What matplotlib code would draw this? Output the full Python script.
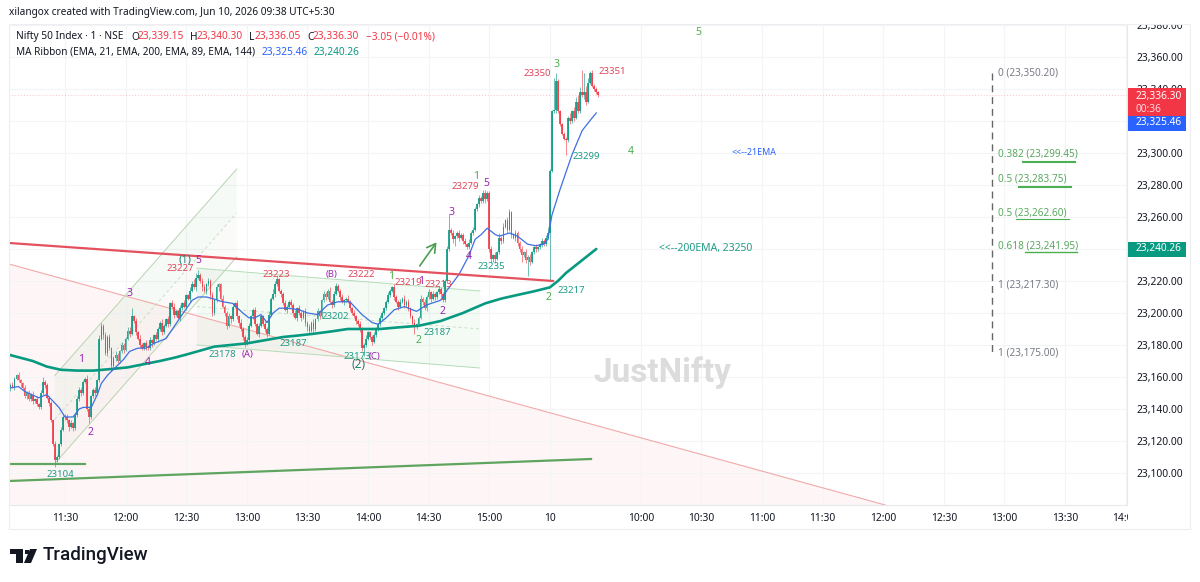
import matplotlib
matplotlib.use('Agg')
import matplotlib.pyplot as plt
from matplotlib.patches import Rectangle, Polygon
import numpy as np

plt.rcParams['font.family'] = ['Noto Sans', 'DejaVu Sans']

# one minute candles, bar 0 = 11:30, bar 240 = first bar of the 10th
first_bar = -28
first_open = 23152
closes = [
    23153,23155,23154,23159,23161,23158,23156,23153,23148,23150,23146,23149,23145,23146,23143,
    23141,23150,23157,23155,23147,23144,23133,23118,23108,23110,23118,23127,23135,23135,
    23133,23129,23131,23128,23136,23146,23152,23150,23157,23159,23140,23135,23148,23152,23150,
    23158,23184,23192,23186,23175,23185,23178,23167,23172,23174,23170,23176,23180,23177,23184,
    23189,23187,23198,23195,23188,23184,23180,23178,23181,23179,23178,23183,23181,23186,23184,
    23190,23194,23188,23192,23196,23193,23206,23204,23199,23201,23197,23203,23206,23204,23211,
    23209,23214,23218,23216,23222,23224,23220,23216,23214,23218,23220,23211,23200,23208,23216,
    23218,23209,23204,23200,23192,23198,23196,23204,23206,23198,23194,23190,23185,23181,23183,
    23192,23198,23202,23193,23187,23192,23198,23193,23190,23187,23199,23209,23212,23218,23221,
    23214,23212,23206,23202,23204,23207,23205,23200,23197,23203,23200,23197,23201,23194,23191,
    23189,23194,23190,23196,23201,23198,23208,23212,23210,23214,23207,23205,23212,23217,23214,
    23210,23207,23208,23209,23207,23203,23200,23198,23195,23193,23190,23178,23180,23184,23188,
    23185,23182,23186,23190,23193,23197,23200,23203,23207,23211,23214,23216,23210,23207,23204,
    23207,23209,23205,23207,23203,23198,23194,23191,23193,23197,23209,23207,23203,23210,23213,
    23209,23212,23210,23213,23215,23212,23208,23220,23240,23252,23250,23246,23248,23250,23247,
    23249,23245,23243,23241,23244,23250,23252,23265,23268,23272,23270,23275,23271,23275,23240,
    23234,23236,23234,23238,23247,23245,23254,23258,23252,23263,23249,23247,23250,23244,23240,
    23236,23238,23233,23235,23232,23238,23241,23240,23241,23243,23245,23243,23247,23250,
    23289,23326,23327,23345,23326,23318,23312,23309,23308,23322,23320,23326,23322,23332,23326,
    23338,23336,23338,23332,23344,23350,23342,23340,23338,23336,
]
upper_wick = [
    2,1,2,1,1,2,1,1,2,1,2,1,2,1,2,
    1,2,3,1,1,1,1,1,2,1,1,2,1,2,
    2,1,2,1,1,2,2,1,1,1,2,2,1,1,2,1,2,2,1,2,1,2,1,1,2,1,1,2,1,1,
    2,2,5,1,2,1,2,1,1,2,1,2,1,1,2,1,1,2,1,1,2,1,2,2,1,1,2,1,2,1,
    1,2,2,3,3,3,1,2,2,1,2,1,2,1,2,1,1,2,1,1,2,1,2,1,2,1,2,1,1,2,
    2,1,1,2,1,2,1,1,2,1,2,1,3,2,2,1,1,1,2,1,1,2,1,2,1,2,1,1,2,1,
    2,1,2,1,2,1,1,2,1,1,2,1,2,2,1,1,2,1,1,2,1,1,2,1,1,2,1,1,2,1,
    1,1,2,1,1,2,1,1,1,2,1,1,2,1,1,2,1,2,1,2,1,1,2,1,1,2,1,2,1,2,
    1,2,1,1,2,1,1,1,2,10,1,2,1,1,2,1,1,2,1,2,1,2,1,1,2,1,2,2,1,1,
    2,1,2,1,3,1,2,1,2,2,1,1,2,1,1,2,1,2,1,2,1,1,2,1,1,2,1,2,4,
    1,1,20,5,1,1,1,1,1,1,3,1,3,3,4,3,14,12,4,3,1,2,1,1,1,
]
lower_wick = [
    1,2,1,2,1,1,2,1,1,2,1,1,2,1,1,
    1,1,1,2,1,2,1,1,4,1,1,1,1,2,
    2,3,1,2,1,1,1,2,1,1,1,4,1,1,2,1,1,1,2,1,2,1,3,1,2,1,1,1,2,1,
    1,2,1,1,2,1,2,1,1,2,1,1,2,1,1,2,1,2,1,1,2,1,1,2,1,1,2,1,1,2,
    1,2,1,1,2,1,1,2,1,2,1,2,2,1,1,2,1,1,2,2,1,2,1,1,2,2,1,2,2,1,
    1,1,2,1,1,2,1,1,2,2,1,1,1,2,1,1,2,1,1,2,1,1,2,1,2,1,2,1,2,2,
    2,1,2,1,1,2,1,1,2,1,1,2,1,1,1,2,1,2,1,1,2,1,1,2,1,2,2,5,1,1,
    1,2,1,1,1,1,2,1,1,1,1,1,2,1,2,1,1,2,1,2,1,2,4,1,1,1,2,1,2,1,
    2,1,2,1,1,2,1,1,1,1,1,2,4,1,2,1,2,1,1,1,1,1,1,1,2,1,1,2,1,2,
    3,2,3,1,1,2,1,1,2,1,2,1,2,2,2,4,1,2,10,2,1,1,2,1,1,2,1,1,1,
    30,1,1,2,1,1,1,1,9,1,2,1,2,1,1,1,1,2,2,1,1,1,1,1,1,
]

# MA ribbon
ema21_bars = [-28,-23,-20,-13,-9,-6,-3,0,4,7,9,13,16,18,21,25,29,32,36,40,44,50,58,63,66,70,73,78,83,88,91,94,97,100,103,106,110,116,
              120,125,130,135,141,147,152,155,159,163,168,174,179,186,189,192,195,200,203,206,209,213,215,220,224,229,233,237,239,241,245,251,256,261,263]
ema21_vals = [23153,23154,23151,23147,23149,23145,23141,23135,23135,23140,23141,23141,23149,23156,23161,23166,23171,23176,23178,23178,23181,
              23184,23199,23208,23210,23210,23209,23207,23206,23200,23197,23197,23199,23194,23200,23203,23203,23202,23200,23199,23205,23207,23207,23199,
              23194,23193,23197,23202,23204,23201,23205,23208,23214,23219,23224,23236,23246,23249,23253,23249,23248,23250,23248,23243,23242,23243,
              23246,23261,23277,23299,23314,23322,23325]
ema200_bars = [-28,-22,-16,-9,-2,6,14,23,31,39,47,54,60,67,74,82,90,99,108,116,123,132,140,148,156,165,175,186,197,208,216,223,232,240,244,248,255,263]
ema200_vals = [23174,23172,23170,23166.5,23164.5,23164,23164,23165,23166,23168,23170,23172,23174,23176.5,23179,23180,23181,23183,23185,23186,
               23187,23188.5,23190,23190,23190,23191,23192,23195,23200,23206,23209,23211,23213.5,23216,23220,23225,23232,23240]

price_ticks = np.arange(23100, 23400, 20)
time_bars = [0, 30, 60, 90, 120, 150, 180, 210, 240, 285, 315, 345, 375, 405, 435, 465, 495, 525]
time_labels = ['11:30', '12:00', '12:30', '13:00', '13:30', '14:00', '14:30', '15:00', '10',
               '10:00', '10:30', '11:00', '11:30', '12:00', '12:30', '13:00', '13:30', '14:00']

fib_levels = [23350.20, 23299.45, 23283.75, 23262.60, 23241.95, 23217.30, 23175.00]
fib_ratios = ['0', '0.382', '0.5', '0.5', '0.618', '1', '1']

RED = '#f23645'
GREEN = '#089981'
PURPLE = '#9c27b0'
LGREEN = '#4caf50'
BLUE = '#2962ff'

# labels on the chart: bar, price, text
red_labels = [(234, 23349.4, '23350'), (271, 23351, '23351'), (198, 23279, '23279'), (57, 23227.5, '23227'),
              (104.5, 23224, '23223'), (146.5, 23224, '23222'), (170, 23219, '23219'), (185, 23218, '23213')]
teal_labels = [(-2.5, 23099, '23104'), (78, 23174, '23178'), (113, 23181, '23187'), (134, 23197.5, '23202'),
               (144.5, 23173, '23173'), (184.5, 23188, '23187'), (211, 23229, '23235'), (250.5, 23214, '23217'),
               (258, 23297.5, '23299')]
purple_labels = [(66, 23233, '5'), (8, 23171, '1'), (12.5, 23125, '2'), (32, 23212, '3'), (41, 23169, '4'),
                 (90.5, 23174, '(A)'), (132, 23224, '(B)'), (153, 23172.5, '(C)'), (187, 23201, '2'),
                 (191.5, 23263, '3'), (208.5, 23281, '5'), (200, 23235.5, '4'), (176.5, 23219.5, '1')]
green_labels = [(161.5, 23222.5, '1'), (175, 23182.5, '2'), (203.5, 23285.5, '1'), (243.5, 23355, '3'),
                (239.5, 23209.5, '2'), (280, 23301, '4'), (313.5, 23375, '5')]

W, H = 1200, 582
fig = plt.figure(figsize=(W / 100, H / 100), dpi=100)
ax = fig.add_axes([9 / W, 1 - 505 / H, (1127 - 9) / W, (505 - 24) / H], zorder=1)


def fx(x):
    return x / W


def fy(y):
    return 1 - y / H


def ftext(x, y, s, color='#131722', size=7.3, **kw):
    fig.text(fx(x), fy(y), s, color=color, fontsize=size, va='center', zorder=10, **kw)


xmin, xmax = -27.72, 525.7
ax.set_xlim(xmin, xmax)
ax.set_ylim(23080, 23380.6)

# grid
ax.set_yticks(price_ticks)
ax.set_yticklabels([f'{p:,.2f}' for p in price_ticks])
ax.set_xticks(time_bars)
ax.set_xticklabels(time_labels)
ax.yaxis.tick_right()
ax.grid(True, color='#f3f4f6', lw=0.8)
ax.set_axisbelow(True)
ax.tick_params(length=0, labelsize=7.4, labelcolor='#131722')
ax.tick_params(axis='y', pad=6.5)
ax.tick_params(axis='x', pad=6)
for lab in ax.get_xticklabels():
    if lab.get_text() == '10':
        lab.set_fontweight('bold')
for s in ['top', 'left']:
    ax.spines[s].set_visible(False)
for s in ['right', 'bottom']:
    ax.spines[s].set_color('#e6e8ec')
    ax.spines[s].set_linewidth(0.8)

# pink triangle under the falling line
ax.fill([xmin, 406, xmin], [23230.6, 23080, 23080], color='#fef6f6', zorder=0.5, lw=0)
ax.plot([xmin, 406], [23230.6, 23080], color='#f2a9a9', lw=0.8, zorder=1.5)

# rising channel
ax.fill([-5, 85, 85, -5], [23133.5, 23262.5, 23235, 23106], color='#9e9e80', alpha=0.05, zorder=1, lw=0)
ax.fill([-5, 85, 85, -5], [23161, 23290, 23262.5, 23133.5], color='#4caf50', alpha=0.05, zorder=1, lw=0)
ax.plot([-5, 85], [23106, 23235], color='#b8d4b0', lw=0.7, zorder=1.5)
ax.plot([-5, 85], [23161, 23290], color='#b8d4b0', lw=0.7, zorder=1.5)
ax.plot([-5, 85], [23133.5, 23262.5], color='#c5dfc5', lw=0.7, ls=(0, (3, 3)), zorder=1.5)

# flag channel
ax.fill([65.3, 205.4, 205.4, 65.3], [23228, 23213.75, 23165.6, 23180], color='#4caf50', alpha=0.06, zorder=1, lw=0)
ax.plot([65.3, 205.4], [23228, 23213.75], color='#b5dcb7', lw=0.7, zorder=1.5)
ax.plot([65.3, 205.4], [23180, 23165.6], color='#b5dcb7', lw=0.7, zorder=1.5)
ax.plot([65.3, 205.4], [23204, 23190], color='#c5dfc5', lw=0.7, ls=(0, (3, 3)), zorder=1.5)

# current price line
ax.axhline(23336.30, color=RED, lw=0.7, ls=(0, (1, 2)), alpha=0.3, zorder=1.5)

# candles
bars = np.arange(first_bar, first_bar + len(closes))
closes_arr = np.array(closes, dtype=float)
opens_arr = np.r_[first_open, closes_arr[:-1]]
highs = np.maximum(opens_arr, closes_arr) + np.array(upper_wick)
lows = np.minimum(opens_arr, closes_arr) - np.array(lower_wick)
up = closes_arr >= opens_arr
colors = np.where(up, GREEN, RED)
ax.vlines(bars, lows, highs, colors=colors, lw=0.6, alpha=0.7, zorder=2)
ax.bar(bars, np.abs(closes_arr - opens_arr), bottom=np.minimum(opens_arr, closes_arr),
       width=0.85, color=colors, alpha=0.85, lw=0, zorder=2.1)

# ribbon
ax.plot(ema200_bars, ema200_vals, color=GREEN, lw=1.9, zorder=3, solid_capstyle='round', solid_joinstyle='round')
ax.plot(ema21_bars, ema21_vals, color='#3d6fe0', lw=0.9, zorder=3, solid_joinstyle='round')

# drawn lines
ax.plot([xmin, 241.6], [23243.75, 23220], color='#e4505e', lw=1.6, zorder=3.2)
ax.plot([xmin, 10], [23105.6, 23105.6], color='#5fa55f', lw=1.6, zorder=3.2)
ax.plot([xmin, 260.4], [23095, 23108.75], color='#5fa55f', lw=1.6, zorder=3.2)
ax.annotate('', xy=(184.7, 23245.6), xytext=(174.8, 23228),
            arrowprops=dict(arrowstyle='->,head_width=0.35,head_length=0.6', color='#4c9f50', lw=1.2), zorder=4)

# fib levels
ax.plot([459, 459], [fib_levels[0], fib_levels[-1]], color='#666666', lw=1.0, ls=(0, (5, 3.5)), zorder=3)
for ratio, level in zip(fib_ratios, fib_levels):
    c = '#787b86' if ratio in ('0', '1') else '#5aa85f'
    ax.text(462, level, f'{ratio} ({level:,.2f})', color=c, fontsize=7.2, va='center', zorder=5)
ax.plot([474.3, 500], [23294.6, 23294.6], color=LGREEN, lw=1.5, zorder=5)
ax.plot([472, 498], [23279, 23279], color=LGREEN, lw=1.5, zorder=5)
ax.plot([471, 497], [23259, 23259], color=LGREEN, lw=0.8, zorder=5)
ax.plot([475, 501], [23238, 23238], color=LGREEN, lw=1.0, zorder=5)

# wave labels
for group, c in [(red_labels, '#e0455a'), (teal_labels, '#1f9c85'), (purple_labels, PURPLE), (green_labels, LGREEN)]:
    for bx, py, s in group:
        size = 7.5 if len(s) == 1 else 6.9
        ax.text(bx, py, s, color=c, fontsize=size, ha='center', va='center', zorder=6)
ax.text(59.5, 23233, '(1)', color='#1f7f70', fontsize=8, ha='center', va='center', zorder=6)
ax.text(145.5, 23167.5, '(2)', color='#1f7f70', fontsize=8.5, ha='center', va='center', zorder=6)
ax.text(341, 23300.5, '<<--21EMA', color=BLUE, fontsize=6.4, ha='center', va='center', zorder=6)
ax.text(317, 23240.5, '<<--200EMA, 23250', color='#1f9c85', fontsize=7.5, ha='center', va='center', zorder=6)
ax.text(295.5, 23163, 'JustNifty', color='#dcdcdc', fontsize=24, fontweight='bold', family='Roboto',
        ha='center', va='center', zorder=1.2)

# masks for clipped axis text and price tags
fig.add_artist(Rectangle((fx(1000), fy(24)), fx(200), fy(0) - fy(24), color='white', lw=0, zorder=5))
fig.add_artist(Rectangle((fx(1128), fy(529)), fx(62), fy(506) - fy(529), color='white', lw=0, zorder=5))
fig.add_artist(Rectangle((fx(9), fy(529)), fx(1181), fy(24) - fy(529), fill=False, ec='#eceef1', lw=0.8, zorder=6))
fig.add_artist(Rectangle((fx(1128), fy(116.5)), fx(58), fy(88) - fy(116.5), color=RED, lw=0, zorder=7))
fig.add_artist(Rectangle((fx(1128), fy(131)), fx(58), fy(116.5) - fy(131), color=BLUE, lw=0, zorder=7))
fig.add_artist(Rectangle((fx(1128), fy(257)), fx(58), fy(242) - fy(257), color=GREEN, lw=0, zorder=7))
ftext(1136, 96, '23,336.30', color='white')
ftext(1136, 109, '00:36', color='#ffd5d9')
ftext(1136, 123, '23,325.46', color='white')
ftext(1136, 249, '23,240.26', color='white')

# header
ftext(9, 13, 'xilangox created with TradingView.com, Jun 10, 2026 09:38 UTC+5:30', size=7.25)
ftext(16, 37, 'Nifty 50 Index · 1 · NSE', size=7.3)
for x, s, c in [(131, 'O', '#131722'), (138, '23,339.15', RED), (190, 'H', '#131722'), (197, '23,340.30', RED),
                (249, 'L', '#131722'), (255, '23,336.05', RED), (307, 'C', '#131722'), (313, '23,336.30', RED),
                (366, '−3.05 (−0.01%)', RED)]:
    ftext(x, 37, s, color=c, size=7.3)
ftext(16, 52, 'MA Ribbon (EMA, 21, EMA, 200, EMA, 89, EMA, 144)', size=7.2)
ftext(262, 52, '23,325.46', color=BLUE, size=7.3)
ftext(314, 52, '23,240.26', color=GREEN, size=7.3)

# logo
LOGO = '#131722'
for pts in [[(10, 549), (23, 549), (23, 563), (16, 563), (16, 554), (10, 554)],
            [(30, 549), (37, 549), (31, 563), (24, 563)]]:
    fig.add_artist(Polygon([(fx(a), fy(b)) for a, b in pts], closed=True, color=LOGO, lw=0, zorder=8))
fig.add_artist(Rectangle((fx(24.5), fy(554)), fx(4.5), fy(549.5) - fy(554), color=LOGO, lw=0, zorder=8))
ftext(43, 555.5, 'TradingView', color=LOGO, size=13.5, family='Roboto', fontweight='medium')

fig.savefig('out.png', dpi=100)
